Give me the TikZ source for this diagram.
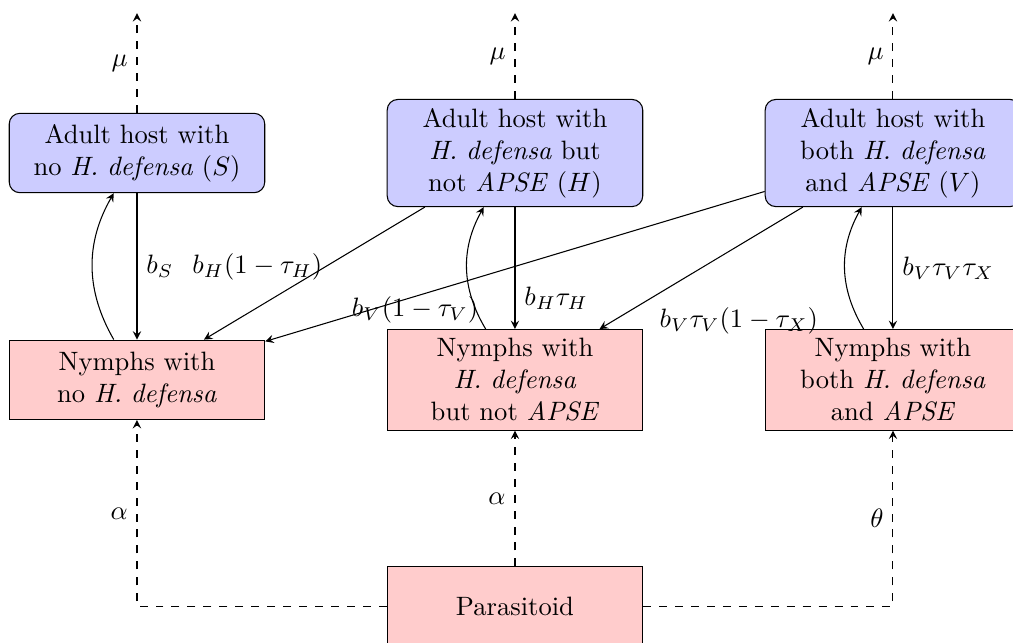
\documentclass[tikz,border=0pt]{standalone}
\usepackage{amsmath}
\usetikzlibrary{arrows}

\begin{document}
\begin{tikzpicture}[>=stealth,align=center,
		adult/.style={draw,rounded corners,fill=blue!20,text width=2.8cm,minimum width=3.38cm,minimum height=1.05cm},
		nymph/.style={draw,fill=red!20,text width=2.8cm,minimum width=3.38cm,minimum height=1.05cm}]
		\useasboundingbox (-1.812,-6.481) rectangle (11.588,2.024);

		\node[adult] (S) at (0, 0) {Adult host with \\ no \textit{H. defensa} $(S)$};
		\node[adult] (H) at (5, 0) {Adult host with \\ \textit{H. defensa} but \\ not \textit{APSE} $(H)$};
		\node[adult] (V) at (10, 0) {Adult host with \\ both \textit{H. defensa} \\ and \textit{APSE} $(V)$};
		\node[nymph] (NS) at (0,-3) {Nymphs with \\ no \textit{H. defensa}};
		\node[nymph] (NH) at (5,-3) {Nymphs with \\ \textit{H. defensa} \\ but not \textit{APSE}};
		\node[nymph] (NV) at (10,-3) {Nymphs with \\ both \textit{H. defensa} \\ and \textit{APSE}};
		\node[nymph] (P) at (5,-6) {Parasitoid};

		\coordinate (deadS) at (0,1.85);
		\coordinate (deadH) at (5,1.85);
		\coordinate (deadV) at (10,1.85);

		\path[->,dashed] (S) edge node[left] {$\mu$} (deadS)
		                 (H) edge node[left] {$\mu$} (deadH)
		                 (V) edge node[left] {$\mu$} (deadV);

		\path[->] (S) edge node[right] {$b_S$} (NS)
		          (H) edge node[pos=0.75,right] {$b_H\tau_H$} (NH)
		          (V) edge node[right] {$b_V\tau_V\tau_X$} (NV)
		          (H) edge node[pos=0.45,left,inner sep=1pt] {$b_H(1-\tau_H)$} (NS)
		          (V) edge node[pos=0.7,below,inner sep=0pt] {$b_V(1-\tau_V)$} (NS)
		          (V) edge node[near end,below right] {$b_V\tau_V(1-\tau_X)$} (NH)
		          (NS) edge[bend left] (S)
		          (NH) edge[bend left] (H)
		          (NV) edge[bend left] (V);

		\draw[->,dashed] (P) -| node[pos=0.75,left] {$\alpha$} (NS);
		\draw[->,dashed] (P) -- node[left] {$\alpha$} (NH);
		\draw[->,dashed] (P) -| node[pos=0.75,left] {$\theta$} (NV);
	\end{tikzpicture}
\end{document}
